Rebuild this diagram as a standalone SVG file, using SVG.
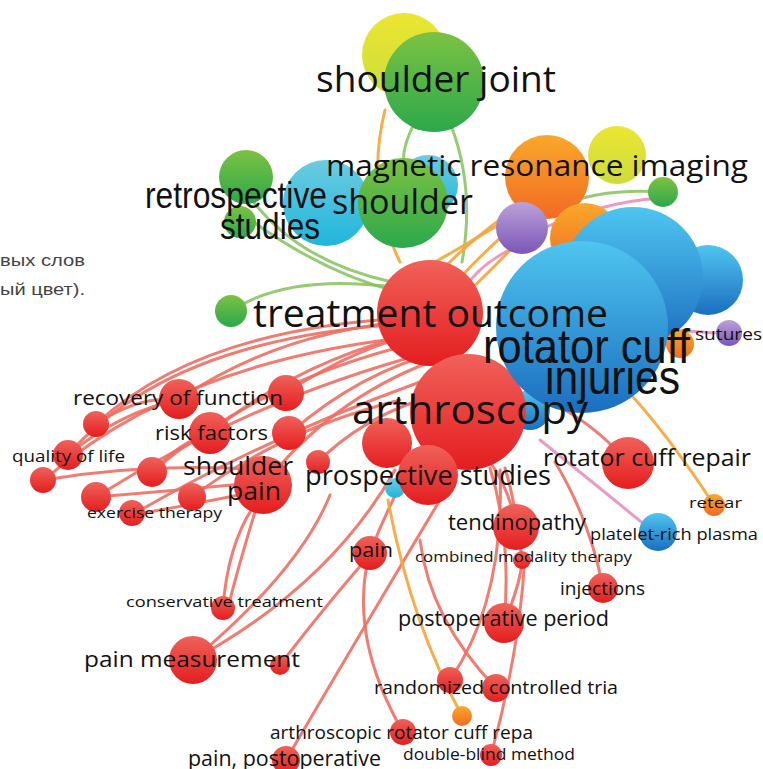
<svg xmlns="http://www.w3.org/2000/svg" width="763" height="769" viewBox="0 0 763 769">
<defs>
<linearGradient id="gR" x1="0" y1="0" x2="0" y2="1"><stop offset="0" stop-color="#f0625a"/><stop offset="1" stop-color="#e41d1f"/></linearGradient>
<linearGradient id="gG" x1="0" y1="0" x2="0" y2="1"><stop offset="0" stop-color="#7cc242"/><stop offset="1" stop-color="#2ca84b"/></linearGradient>
<linearGradient id="gY" x1="0" y1="0" x2="0" y2="1"><stop offset="0" stop-color="#ece631"/><stop offset="1" stop-color="#cddc3c"/></linearGradient>
<linearGradient id="gC" x1="0" y1="0" x2="0" y2="1"><stop offset="0" stop-color="#6ccbe2"/><stop offset="1" stop-color="#1fb6db"/></linearGradient>
<linearGradient id="gB" x1="0" y1="0" x2="0" y2="1"><stop offset="0" stop-color="#4fc5f0"/><stop offset="1" stop-color="#1b6ebf"/></linearGradient>
<linearGradient id="gO" x1="0" y1="0" x2="0" y2="1"><stop offset="0" stop-color="#f9a82a"/><stop offset="1" stop-color="#f26a24"/></linearGradient>
<linearGradient id="gP" x1="0" y1="0" x2="0" y2="1"><stop offset="0" stop-color="#bba2d9"/><stop offset="1" stop-color="#7b56b7"/></linearGradient>
<style>
.r{fill:url(#gR)}.g{fill:url(#gG)}.y{fill:url(#gY)}.c{fill:url(#gC)}.b{fill:url(#gB)}.o{fill:url(#gO)}.p{fill:url(#gP)}
.er{fill:none;stroke:#f06e62;stroke-width:3;stroke-linecap:round;opacity:.9}
.eo{fill:none;stroke:#f7a43a;stroke-width:3;stroke-linecap:round;opacity:.9}
.eg{fill:none;stroke:#84c25a;stroke-width:3;stroke-linecap:round;opacity:.85}
.ep{fill:none;stroke:#e990bd;stroke-width:3;stroke-linecap:round;opacity:.9}
.t{font-family:"Open Sans","Noto Sans",sans-serif;fill:#111}
.n{font-family:"Liberation Sans",Arial,sans-serif;fill:#111}
.ru{font-family:"Liberation Sans",Arial,sans-serif;fill:#444;font-size:16px}
</style>
</defs>
<rect width="763" height="769" fill="#ffffff"/>
<text class="ru" x="0" y="266" textLength="85" lengthAdjust="spacingAndGlyphs">вых слов</text>
<text class="ru" x="0" y="295" textLength="85" lengthAdjust="spacingAndGlyphs">ый цвет).</text>
<g id="connectors">
<path class="eo" d="M385,110 Q365,190 400,262"/>
<path class="eg" d="M412,128 Q402,150 404,162"/>
<path class="eg" d="M452,128 Q475,190 462,262"/>
<path class="eg" d="M244,215 Q320,272 398,292"/>
<path class="eg" d="M252,200 Q300,262 392,282"/>
<path class="eg" d="M231,311 Q285,275 385,286"/>
<path class="eg" d="M663,192 Q600,188 560,206"/>
<path class="ep" d="M660,198 Q600,202 535,232"/>
<path class="ep" d="M520,245 Q480,262 462,292"/>
<path class="eo" d="M520,205 Q470,240 440,272"/>
<path class="eo" d="M530,212 Q485,250 458,280"/>
<path class="eo" d="M510,218 Q460,248 428,266"/>
<path class="eo" d="M540,218 Q500,262 470,290"/>
<path class="ep" d="M715,333 Q690,331 668,330"/>
<path class="ep" d="M540,440 Q590,480 645,525"/>
<path class="eo" d="M714,505 Q665,430 622,385"/>
<path class="er" d="M178,400 Q280,330 420,320"/>
<path class="er" d="M96,424 Q200,328 410,318"/>
<path class="er" d="M68,455 Q170,338 405,324"/>
<path class="er" d="M44,480 Q180,360 420,336"/>
<path class="er" d="M152,472 Q260,380 420,342"/>
<path class="er" d="M96,497 Q250,400 430,352"/>
<path class="er" d="M132,515 Q260,440 420,382"/>
<path class="er" d="M191,498 Q280,430 400,400"/>
<path class="er" d="M210,433 Q300,360 420,332"/>
<path class="er" d="M287,392 Q360,345 425,332"/>
<path class="er" d="M290,433 Q360,372 440,352"/>
<path class="er" d="M263,486 Q330,400 430,362"/>
<path class="er" d="M318,462 Q360,420 420,400"/>
<path class="er" d="M44,480 Q150,462 263,470"/>
<path class="er" d="M96,497 Q180,490 263,482"/>
<path class="er" d="M68,455 Q120,412 178,400"/>
<path class="er" d="M152,472 Q180,442 210,433"/>
<path class="er" d="M96,424 Q140,395 178,400"/>
<path class="er" d="M132,515 Q190,505 263,490"/>
<path class="er" d="M370,553 Q390,500 420,450"/>
<path class="er" d="M193,660 Q330,585 395,470"/>
<path class="er" d="M280,665 Q330,600 370,555"/>
<path class="er" d="M223,608 Q228,540 258,500"/>
<path class="er" d="M263,486 Q240,560 230,600"/>
<path class="er" d="M193,660 Q300,570 330,495"/>
<path class="er" d="M286,760 Q380,600 440,500"/>
<path class="er" d="M403,732 Q350,640 368,560"/>
<path class="er" d="M450,680 Q505,600 500,470"/>
<path class="er" d="M496,688 Q430,620 420,540"/>
<path class="er" d="M491,755 Q520,650 525,555"/>
<path class="er" d="M504,623 Q520,585 522,562"/>
<path class="er" d="M504,623 Q512,540 490,468"/>
<path class="er" d="M603,588 Q590,520 555,462"/>
<path class="er" d="M516,527 Q510,490 490,462"/>
<path class="er" d="M522,560 Q515,500 505,468"/>
<path class="er" d="M628,463 Q600,430 565,410"/>
<path class="eo" d="M462,716 Q410,620 388,500"/>
</g>
<g id="node-yellow-top"><circle class="y" cx="404" cy="55" r="42"/></g>
<g id="node-shoulder-joint"><circle class="g" cx="422" cy="112" r="18"/><circle class="g" cx="434" cy="82" r="50"/></g>
<g id="node-cyan"><circle class="c" cx="326" cy="203" r="43"/><circle class="c" cx="428" cy="185" r="30"/></g>
<g id="node-shoulder"><circle class="g" cx="403" cy="203" r="45"/></g>
<g id="node-retrospective-studies"><circle class="g" cx="246" cy="177" r="27"/><circle class="g" cx="240" cy="222" r="16"/></g>
<g id="node-yellow-right"><circle class="y" cx="617" cy="155" r="29"/></g>
<g id="node-mri"><circle class="o" cx="547" cy="177" r="42"/></g>
<g id="node-green-right"><circle class="g" cx="663" cy="192" r="15"/></g>
<g id="node-orange-mid"><circle class="o" cx="585" cy="238" r="35"/></g>
<g id="node-purple"><circle class="p" cx="522" cy="228" r="26"/></g>
<g id="node-blue-upper"><circle class="b" cx="708" cy="280" r="35"/><circle class="b" cx="633" cy="277" r="70"/></g>
<g id="node-orange-small"><circle class="o" cx="680" cy="344" r="14"/></g>
<g id="node-sutures"><circle class="p" cx="729" cy="333" r="13"/></g>
<g id="node-green-left"><circle class="g" cx="231" cy="311" r="16"/></g>
<g id="node-treatment-outcome"><circle class="r" cx="430" cy="313" r="53"/></g>
<g id="node-blue-small"><circle class="b" cx="530" cy="410" r="20"/></g>
<g id="node-red-left-arth"><circle class="r" cx="387" cy="443" r="25"/></g>
<g id="node-cyan-small"><circle class="c" cx="395" cy="488" r="10"/></g>
<g id="node-arthroscopy"><circle class="r" cx="468" cy="412" r="58"/></g>
<g id="node-rotator-cuff-injuries"><circle class="b" cx="582" cy="327" r="86"/></g>
<g id="node-prospective-studies"><circle class="r" cx="428" cy="475" r="30"/></g>
<g id="node-red-small"><circle class="r" cx="318" cy="462" r="12"/></g>
<g id="node-rotator-cuff-repair"><circle class="r" cx="628" cy="463" r="26"/></g>
<g id="node-retear"><circle class="o" cx="714" cy="505" r="11"/></g>
<g id="node-platelet-rich-plasma"><circle class="b" cx="658" cy="532" r="19"/></g>
<g id="node-tendinopathy"><circle class="r" cx="516" cy="527" r="23"/></g>
<g id="node-pain"><circle class="r" cx="370" cy="553" r="17"/></g>
<g id="node-combined-modality-therapy"><circle class="r" cx="522" cy="560" r="9"/></g>
<g id="node-injections"><circle class="r" cx="603" cy="588" r="15"/></g>
<g id="node-conservative-treatment"><circle class="r" cx="223" cy="608" r="12"/></g>
<g id="node-postoperative-period"><circle class="r" cx="504" cy="623" r="20"/></g>
<g id="node-pain-measurement"><circle class="r" cx="193" cy="660" r="24"/><circle class="r" cx="280" cy="665" r="10"/></g>
<g id="node-randomized-controlled-trial"><circle class="r" cx="450" cy="680" r="13"/><circle class="r" cx="496" cy="688" r="14"/></g>
<g id="node-orange-bottom"><circle class="o" cx="462" cy="716" r="10"/></g>
<g id="node-arthroscopic-rcr"><circle class="r" cx="403" cy="732" r="13"/></g>
<g id="node-double-blind-method"><circle class="r" cx="491" cy="755" r="11"/></g>
<g id="node-pain-postoperative"><circle class="r" cx="286" cy="760" r="14"/></g>
<g id="node-recovery-of-function"><circle class="r" cx="179" cy="399" r="20"/><circle class="r" cx="286" cy="393" r="18"/></g>
<g id="node-risk-factors"><circle class="r" cx="210" cy="433" r="21"/><circle class="r" cx="289" cy="433" r="17"/></g>
<g id="node-quality-of-life"><circle class="r" cx="96" cy="424" r="13"/><circle class="r" cx="68" cy="455" r="15"/><circle class="r" cx="43" cy="480" r="13"/><circle class="r" cx="152" cy="472" r="15"/></g>
<g id="node-shoulder-pain"><circle class="r" cx="263" cy="485" r="29"/></g>
<g id="node-exercise-therapy"><circle class="r" cx="96" cy="497" r="15"/><circle class="r" cx="192" cy="497" r="14"/><circle class="r" cx="132" cy="513" r="13"/></g>
<g id="labels">
<text class="t" x="316" y="92" font-size="36" textLength="240" lengthAdjust="spacingAndGlyphs">shoulder joint</text>
<text class="t" x="326" y="176" font-size="30" textLength="422" lengthAdjust="spacingAndGlyphs">magnetic resonance imaging</text>
<text class="n" x="145" y="208" font-size="36" textLength="182" lengthAdjust="spacingAndGlyphs">retrospective</text>
<text class="n" x="220" y="239" font-size="36" textLength="100" lengthAdjust="spacingAndGlyphs">studies</text>
<text class="t" x="332" y="214" font-size="34" textLength="141" lengthAdjust="spacingAndGlyphs">shoulder</text>
<text class="t" x="253" y="327" font-size="38" textLength="355" lengthAdjust="spacingAndGlyphs">treatment outcome</text>
<text class="n" x="483" y="363" font-size="48" textLength="207" lengthAdjust="spacingAndGlyphs">rotator cuff</text>
<text class="n" x="545" y="394" font-size="48" textLength="135" lengthAdjust="spacingAndGlyphs">injuries</text>
<text class="t" x="695" y="340" font-size="17" textLength="67" lengthAdjust="spacingAndGlyphs">sutures</text>
<text class="t" x="352" y="424" font-size="40" textLength="236" lengthAdjust="spacingAndGlyphs">arthroscopy</text>
<text class="t" x="305" y="485" font-size="27" textLength="246" lengthAdjust="spacingAndGlyphs">prospective studies</text>
<text class="t" x="543" y="466" font-size="24" textLength="208" lengthAdjust="spacingAndGlyphs">rotator cuff repair</text>
<text class="t" x="689" y="508" font-size="15" textLength="53" lengthAdjust="spacingAndGlyphs">retear</text>
<text class="t" x="590" y="540" font-size="16" textLength="168" lengthAdjust="spacingAndGlyphs">platelet-rich plasma</text>
<text class="t" x="448" y="530" font-size="21" textLength="138" lengthAdjust="spacingAndGlyphs">tendinopathy</text>
<text class="t" x="349" y="557" font-size="20" textLength="44" lengthAdjust="spacingAndGlyphs">pain</text>
<text class="t" x="415" y="562" font-size="15" textLength="217" lengthAdjust="spacingAndGlyphs">combined modality therapy</text>
<text class="t" x="560" y="595" font-size="18" textLength="85" lengthAdjust="spacingAndGlyphs">injections</text>
<text class="t" x="126" y="607" font-size="15" textLength="197" lengthAdjust="spacingAndGlyphs">conservative treatment</text>
<text class="t" x="398" y="626" font-size="21" textLength="211" lengthAdjust="spacingAndGlyphs">postoperative period</text>
<text class="t" x="84" y="667" font-size="22" textLength="216" lengthAdjust="spacingAndGlyphs">pain measurement</text>
<text class="t" x="374" y="694" font-size="18" textLength="244" lengthAdjust="spacingAndGlyphs">randomized controlled tria</text>
<text class="t" x="270" y="739" font-size="18" textLength="263" lengthAdjust="spacingAndGlyphs">arthroscopic rotator cuff repa</text>
<text class="t" x="403" y="760" font-size="16" textLength="172" lengthAdjust="spacingAndGlyphs">double-blind method</text>
<text class="t" x="188" y="766" font-size="21" textLength="193" lengthAdjust="spacingAndGlyphs">pain, postoperative</text>
<text class="t" x="73" y="405" font-size="20" textLength="210" lengthAdjust="spacingAndGlyphs">recovery of function</text>
<text class="t" x="155" y="440" font-size="20" textLength="113" lengthAdjust="spacingAndGlyphs">risk factors</text>
<text class="t" x="12" y="462" font-size="16" textLength="113" lengthAdjust="spacingAndGlyphs">quality of life</text>
<text class="t" x="183" y="475" font-size="25" textLength="110" lengthAdjust="spacingAndGlyphs">shoulder</text>
<text class="t" x="227" y="500" font-size="25" textLength="54" lengthAdjust="spacingAndGlyphs">pain</text>
<text class="t" x="87" y="518" font-size="14" textLength="135" lengthAdjust="spacingAndGlyphs">exercise therapy</text>
</g>
</svg>
